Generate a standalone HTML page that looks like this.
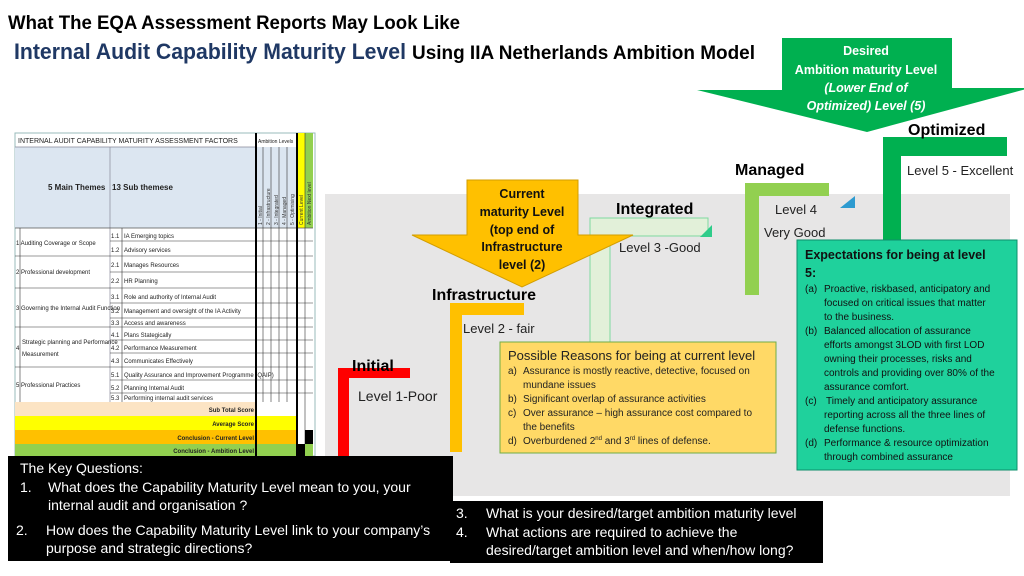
<!DOCTYPE html>
<html><head><meta charset="utf-8"><style>
html,body{margin:0;padding:0;background:#fff;}
svg{display:block;font-family:"Liberation Sans",sans-serif;}
.n{font-family:"Liberation Sans Narrow","Liberation Sans",sans-serif;}
</style></head><body>
<svg width="1024" height="576" viewBox="0 0 1024 576" xmlns="http://www.w3.org/2000/svg">
<!-- titles -->
<text class="n" x="8" y="29" font-size="19" font-weight="bold" textLength="452" lengthAdjust="spacingAndGlyphs">What The    EQA Assessment Reports May Look Like</text>
<text class="n" x="14" y="59" font-size="22" font-weight="bold" fill="#1f3864" textLength="392" lengthAdjust="spacingAndGlyphs">Internal Audit Capability Maturity Level</text>
<text class="n" x="412" y="59" font-size="19" font-weight="bold" textLength="343" lengthAdjust="spacingAndGlyphs">Using IIA Netherlands Ambition Model</text>

<!-- grey background -->
<rect x="325" y="194" width="685" height="302" fill="#e7e6e6"/>

<!-- table -->
<g font-size="6" fill="#222" class="n">
<rect x="15" y="133" width="300" height="323" fill="#fff" stroke="#9bb" stroke-width="1"/>
<rect x="15" y="147" width="240" height="81" fill="#dce6f1"/>
<rect x="255" y="147" width="42" height="81" fill="#dce6f1"/>
<rect x="297" y="133" width="8" height="95" fill="#ffff00"/>
<rect x="305" y="133" width="8" height="95" fill="#92d050"/>
<text x="18" y="143" font-size="7">INTERNAL AUDIT CAPABILITY MATURITY ASSESSMENT FACTORS</text>
<text x="258" y="143" font-size="5">Ambition Levels</text>
<text x="48" y="190" font-size="8" font-weight="bold">5 Main Themes</text>
<text x="112" y="190" font-size="8" font-weight="bold">13 Sub themese</text>
<line x1="110" y1="147" x2="110" y2="402" stroke="#889" stroke-width="0.7"/>
<line x1="15" y1="147" x2="255" y2="147" stroke="#889" stroke-width="0.7"/>
<line x1="15" y1="228" x2="313" y2="228" stroke="#555" stroke-width="0.7"/>
<g stroke="#333" stroke-width="0.6">
<line x1="263" y1="147" x2="263" y2="402"/><line x1="271" y1="147" x2="271" y2="402"/><line x1="279" y1="147" x2="279" y2="402"/><line x1="287" y1="147" x2="287" y2="402"/><line x1="305" y1="133" x2="305" y2="456"/>
</g>
<line x1="256" y1="133" x2="256" y2="456" stroke="#000" stroke-width="2"/>
<line x1="297" y1="133" x2="297" y2="456" stroke="#000" stroke-width="2"/>
<g font-size="5" fill="#333">
<text transform="translate(262,225) rotate(-90)">1 - Initial</text>
<text transform="translate(270,225) rotate(-90)">2 - Infrastructure</text>
<text transform="translate(278,225) rotate(-90)">3 - Integrated</text>
<text transform="translate(286,225) rotate(-90)">4 - Managed</text>
<text transform="translate(294,225) rotate(-90)">5 - Optimising</text>
<text transform="translate(303,225) rotate(-90)">Current Level</text>
<text transform="translate(311,225) rotate(-90)">Ambition Next level</text>
</g>
<g stroke="#333" stroke-width="0.6">
<line x1="110" y1="241" x2="313" y2="241"/>
<line x1="15" y1="256" x2="313" y2="256"/>
<line x1="110" y1="272" x2="313" y2="272"/>
<line x1="15" y1="288" x2="313" y2="288"/>
<line x1="110" y1="303" x2="313" y2="303"/>
<line x1="110" y1="318" x2="313" y2="318"/>
<line x1="15" y1="327" x2="313" y2="327"/>
<line x1="110" y1="340" x2="313" y2="340"/>
<line x1="110" y1="353" x2="313" y2="353"/>
<line x1="15" y1="367" x2="313" y2="367"/>
<line x1="110" y1="380" x2="313" y2="380"/>
<line x1="110" y1="393" x2="313" y2="393"/>
<line x1="20" y1="228" x2="20" y2="402"/>
<line x1="122" y1="228" x2="122" y2="402"/>
</g>
<text x="16" y="245">1 Auditing Coverage or Scope</text>
<text x="16" y="274">2 Professional development</text>
<text x="16" y="310">3 Governing the Internal Audit Function</text>
<text x="22" y="344">Strategic planning and Performance</text><text x="16" y="350">4</text>
<text x="22" y="356">Measurement</text>
<text x="16" y="387">5 Professional Practices</text>
<text x="111" y="238">1.1</text><text x="124" y="238">IA Emerging topics</text>
<text x="111" y="252">1.2</text><text x="124" y="252">Advisory services</text>
<text x="111" y="267">2.1</text><text x="124" y="267">Manages Resources</text>
<text x="111" y="283">2.2</text><text x="124" y="283">HR Planning</text>
<text x="111" y="299">3.1</text><text x="124" y="299">Role and authority of Internal Audit</text>
<text x="111" y="313">3.2</text><text x="124" y="313">Management and oversight of the IA Activity</text>
<text x="111" y="325">3.3</text><text x="124" y="325">Access and awareness</text>
<text x="111" y="337">4.1</text><text x="124" y="337">Plans Stategically</text>
<text x="111" y="350">4.2</text><text x="124" y="350">Performance Measurement</text>
<text x="111" y="363">4.3</text><text x="124" y="363">Communicates Effectively</text>
<text x="111" y="377">5.1</text><text x="124" y="377">Quality Assurance and Improvement Programme (QAIP)</text>
<text x="111" y="390">5.2</text><text x="124" y="390">Planning Internal Audit</text>
<text x="111" y="400">5.3</text><text x="124" y="400">Performing internal audit services</text>
<rect x="15" y="402" width="241" height="14" fill="#fce4c4"/>
<rect x="15" y="416" width="282" height="14" fill="#ffff00"/>
<rect x="15" y="430" width="282" height="14" fill="#ffc000"/>
<rect x="15" y="444" width="282" height="12" fill="#92d050"/>
<rect x="305" y="430" width="8" height="14" fill="#000"/>
<rect x="297" y="444" width="8" height="12" fill="#000"/>
<rect x="305" y="444" width="8" height="12" fill="#92d050"/>
<line x1="256" y1="133" x2="256" y2="456" stroke="#000" stroke-width="2"/>
<line x1="297" y1="133" x2="297" y2="456" stroke="#000" stroke-width="2"/>
<g font-weight="bold" font-size="6" text-anchor="end">
<text x="254" y="412">Sub Total Score</text>
<text x="254" y="426">Average Score</text>
<text x="254" y="440">Conclusion - Current Level</text>
<text x="254" y="453">Conclusion - Ambition Level</text>
</g>
</g>

<!-- Initial -->
<path d="M338 368 H410 V378 H349 V456 H338 Z" fill="#ff0000"/>
<text x="352" y="371" font-size="16" font-weight="bold">Initial</text>
<text x="358" y="401" font-size="14" fill="#222">Level  1-Poor</text>

<!-- Infrastructure -->
<path d="M450 303 H524 V315 H462 V452 H450 Z" fill="#ffc000"/>
<text x="432" y="300" font-size="16" font-weight="bold">Infrastructure</text>
<text x="463" y="333" font-size="13" fill="#222">Level 2 - fair</text>

<!-- Integrated -->
<path d="M590 218 H708 V236 H610 V345 H590 Z" fill="#e2f0d9" stroke="#7fd9a0" stroke-width="1"/>
<path d="M712 225 V237 H700 Z" fill="#2fcc8a"/>
<text x="616" y="214" font-size="16" font-weight="bold">Integrated</text>
<text x="619" y="252" font-size="13" fill="#222">Level 3 -Good</text>

<!-- Managed -->
<path d="M745 183 H829 V196 H759 V295 H745 Z" fill="#92d050"/>
<path d="M855 196 V208 H840 Z" fill="#2e9bd0"/>
<text x="735" y="175" font-size="16" font-weight="bold">Managed</text>
<text x="775" y="214" font-size="13" fill="#222">Level 4</text>
<text x="764" y="237" font-size="13" fill="#222">Very Good</text>

<!-- Optimized -->
<path d="M883 137 H1007 V156 H901 V245 H883 Z" fill="#00b050"/>
<text x="908" y="135" font-size="16" font-weight="bold">Optimized</text>
<text x="907" y="175" font-size="13" fill="#222">Level 5 - Excellent</text>

<!-- Current arrow -->
<path d="M467 180 H578 V235 H633 L522 287 L412 235 H467 Z" fill="#ffc000" stroke="#d39e00" stroke-width="1"/>
<g font-size="12.5" font-weight="bold" text-anchor="middle" fill="#111">
<text x="522" y="198">Current</text>
<text x="522" y="216">maturity Level</text>
<text x="522" y="234">(top end of</text>
<text x="522" y="251">Infrastructure</text>
<text x="522" y="269">level (2)</text>
</g>

<!-- Desired arrow -->
<path d="M782 38 H952 V88 H1030 L867 132 L697 90 H782 Z" fill="#00b050"/>
<g font-size="12.5" font-weight="bold" text-anchor="middle" fill="#fff">
<text x="866" y="55">Desired</text>
<text x="866" y="74">Ambition maturity Level</text>
<text x="866" y="92" font-style="italic">(Lower End of</text>
<text x="866" y="110" font-style="italic">Optimized) Level (5)</text>
</g>

<!-- Yellow box -->
<rect x="500" y="342" width="276" height="111" fill="#ffd966" stroke="#70ad47" stroke-width="1"/>
<text x="508" y="360" font-size="13" fill="#222">Possible Reasons for being at current level</text>
<g font-size="10" fill="#222">
<text x="508" y="374">a)</text><text x="523" y="374">Assurance is mostly reactive, detective, focused on</text>
<text x="523" y="388">mundane issues</text>
<text x="508" y="402">b)</text><text x="523" y="402">Significant overlap of assurance activities</text>
<text x="508" y="416">c)</text><text x="523" y="416">Over assurance – high assurance cost compared to</text>
<text x="523" y="430">the benefits</text>
<text x="508" y="444">d)</text><text x="523" y="444">Overburdened 2<tspan font-size="6" dy="-4">nd</tspan><tspan dy="4"> and 3</tspan><tspan font-size="6" dy="-4">rd</tspan><tspan dy="4"> lines of defense.</tspan></text>
</g>

<!-- Teal box -->
<rect x="797" y="240" width="220" height="230" fill="#1fd19c" stroke="#0e8f6b" stroke-width="1"/>
<g fill="#111">
<text x="805" y="259" font-size="12.5" font-weight="bold">Expectations  for being at  level</text>
<text x="805" y="277" font-size="12.5" font-weight="bold">5:</text>
<g font-size="10">
<text x="805" y="292">(a)</text><text x="824" y="292">Proactive, riskbased, anticipatory  and</text>
<text x="824" y="306">focused on critical issues that matter</text>
<text x="824" y="320">to the business.</text>
<text x="805" y="334">(b)</text><text x="824" y="334">Balanced allocation of assurance</text>
<text x="824" y="348">efforts amongst 3LOD with first LOD</text>
<text x="824" y="362">owning their processes, risks and</text>
<text x="824" y="376">controls and providing over 80% of the</text>
<text x="824" y="390">assurance comfort.</text>
<text x="805" y="404">(c)</text><text x="826" y="404">Timely and anticipatory assurance</text>
<text x="824" y="418">reporting across all the three lines of</text>
<text x="824" y="432">defense functions.</text>
<text x="805" y="446">(d)</text><text x="824" y="446">Performance &amp; resource optimization</text>
<text x="824" y="460">through combined assurance</text>
</g></g>

<!-- Black boxes -->
<rect x="8" y="456" width="445" height="60" fill="#000"/>
<rect x="8" y="515" width="445" height="46" fill="#000"/>
<rect x="450" y="501" width="373" height="62" fill="#000"/>
<g class="n" fill="#fff" font-size="14">
<text x="20" y="473">The Key Questions:</text>
<text x="20" y="492">1.</text><text x="48" y="492">What does the Capability Maturity Level mean  to you, your</text>
<text x="48" y="510">internal audit  and  organisation ?</text>
<text x="16" y="535">2.</text><text x="46" y="535">How does the Capability Maturity Level link to your company’s</text>
<text x="46" y="553">purpose and strategic directions?</text>
<text x="456" y="518">3.</text><text x="486" y="518">What is your desired/target ambition maturity level</text>
<text x="456" y="537">4.</text><text x="486" y="537">What actions are required to achieve the</text>
<text x="486" y="555">desired/target ambition level and  when/how long?</text>
</g>
</svg>
</body></html>
